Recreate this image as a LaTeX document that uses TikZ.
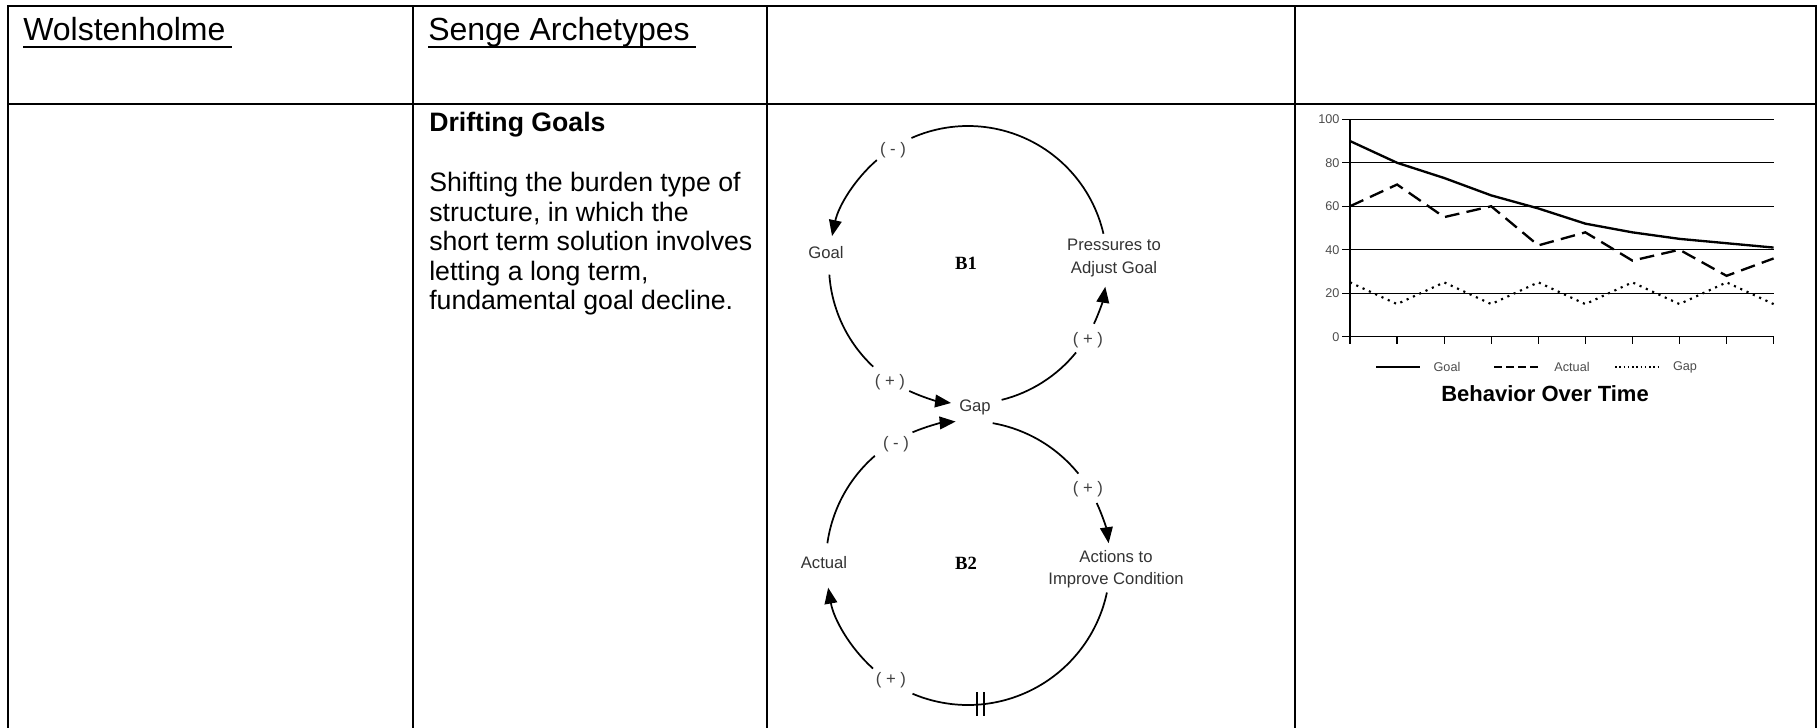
\documentclass[tikz,border=0pt]{standalone}
\usepackage{fontspec}
\setmainfont{Liberation Sans}
\newfontfamily\loopfont{Liberation Serif}
\usetikzlibrary{arrows.meta,calc}
\begin{document}
\begin{tikzpicture}[x=0.75pt,y=-0.75pt,
  tablerule/.style={line width=1.6pt,line cap=rect},
  headtext/.style={anchor=base west,inner sep=0,font=\fontsize{24}{28}\selectfont},
  bodytext/.style={anchor=base west,inner sep=0,font=\fontsize{20}{22}\selectfont},
  cldline/.style={line width=1.3pt},
  cldarrow/.style={cldline,-{Triangle[length=12pt,width=9.5pt]}},
  varlabel/.style={inner sep=0,align=center,text=black!80,font=\fontsize{12.5}{17.5}\selectfont},
  polarity/.style={inner sep=0,text=black!75,font=\fontsize{12.5}{14}\selectfont},
  loopname/.style={inner sep=0,font=\loopfont\bfseries\fontsize{14}{16}\selectfont},
  gridline/.style={line width=0.9pt},
  axlabel/.style={inner sep=0,text=black!70,font=\fontsize{9.5}{11}\selectfont},
  goalcurve/.style={line width=1.75pt},
  actualcurve/.style={line width=1.75pt,dash pattern=on 11pt off 5.5pt},
  gapcurve/.style={line width=1.6pt,dash pattern=on 1.6pt off 3.6pt},
]
\useasboundingbox (0,0) rectangle (1817,728);

% ---------- table frame ----------
\draw[tablerule] (8,6) -- (1816,6);
\draw[tablerule] (8,104) -- (1816,104);
\foreach \x in {8,413,767,1295,1816}
  \draw[tablerule] (\x,6) -- (\x,728);

% ---------- header row ----------
\node[headtext] (wolst) at (23,40) {Wolstenholme};
\draw[line width=1.6pt] ($(wolst.base west)+(0,7)$) -- ($(wolst.base east)+(6,7)$);
\node[headtext] (senge) at (428,40) {Senge Archetypes};
\draw[line width=1.6pt] ($(senge.base west)+(0,7)$) -- ($(senge.base east)+(6,7)$);

% ---------- archetype description ----------
\node[bodytext,font=\bfseries\fontsize{20}{22}\selectfont] (title) at (429,131) {Drifting Goals};
\node[bodytext] (d1) at (429,191.7) {Shifting the burden type of};
\node[bodytext] (d2) at (429,221.2) {structure, in which the};
\node[bodytext] (d3) at (429,250.7) {short term solution involves};
\node[bodytext] (d4) at (429,280.2) {letting a long term,};
\node[bodytext] (d5) at (429,309.7) {fundamental goal decline.};

% ---------- causal loop diagram ----------
\def\ra{139}
\def\rb{142}
\coordinate (c1) at (968,265);
\coordinate (c2) at (968,563);

\node[varlabel] (goal) at (826,253) {Goal};
\node[varlabel] (press) at (1114,258) {Pressures to\\Adjust Goal};
\node[varlabel] (gap) at (975,407) {Gap};
\node[varlabel] (actual) at (824,563) {Actual};
\node[varlabel,font=\fontsize{12.5}{16.5}\selectfont] (actions) at (1116,569) {Actions to\\Improve Condition};
\node[loopname] (b1) at (966,263) {B1};
\node[loopname] (b2) at (966,563) {B2};

\node[polarity] (p1) at (893,150) {( - )};
\node[polarity] (p2) at (890,382) {( + )};
\node[polarity] (p3) at (1088,340) {( + )};
\node[polarity] (p4) at (896,444) {( - )};
\node[polarity] (p5) at (1088,489) {( + )};
\node[polarity] (p6) at (891,680) {( + )};

% loop B1
\draw[cldline]  ($(c1)+(347:\ra)$) arc[start angle=347,end angle=246,radius=\ra];
\draw[cldarrow] ($(c1)+(229:\ra)$) arc[start angle=229,end angle=192,radius=\ra];
\draw[cldline]  ($(c1)+(176:\ra)$) arc[start angle=176,end angle=133,radius=\ra];
\draw[cldarrow] ($(c1)+(115:\ra)$) arc[start angle=115,end angle=97,radius=\ra];
\draw[cldline]  ($(c1)+(76:\ra)$)  arc[start angle=76,end angle=39,radius=\ra];
\draw[cldarrow] ($(c1)+(25:\ra)$)  arc[start angle=25,end angle=9,radius=\ra];

% loop B2
\draw[cldline]  ($(c2)+(280:\rb)$) arc[start angle=280,end angle=321,radius=\rb];
\draw[cldarrow] ($(c2)+(335:\rb)$) arc[start angle=335,end angle=352,radius=\rb];
\draw[cldline]  ($(c2)+(372:\rb)$) arc[start angle=372,end angle=473,radius=\rb];
\draw[cldarrow] ($(c2)+(132:\rb)$) arc[start angle=132,end angle=170,radius=\rb];
\draw[cldline]  ($(c2)+(188:\rb)$) arc[start angle=188,end angle=229,radius=\rb];
\draw[cldarrow] ($(c2)+(247:\rb)$) arc[start angle=247,end angle=265,radius=\rb];

% delay mark
\coordinate (delay) at ($(c2)+(85:\rb)$);
\draw[line width=1.2pt] ($(delay)+(-3.5,-12)$) -- ($(delay)+(-3.5,12)$);
\draw[line width=1.2pt] ($(delay)+(3.5,-12)$) -- ($(delay)+(3.5,12)$);

% ---------- behaviour over time chart ----------
\begin{scope}[shift={(1350,336.7)},x=35.3pt,y=1.6305pt]
  \foreach \v in {20,40,...,100}
    \draw[gridline] (-0.17,\v) -- (9,\v);
  \draw[gridline] (-0.17,0) -- (9,0);
  \draw[gridline] (0,0) -- (0,100);
  \foreach \i in {0,...,9}
    \draw[gridline] (\i,0) -- (\i,-3.3);
  \foreach \v in {0,20,...,100}
    \node[axlabel,anchor=east] at (-0.22,\v) {\v};
  \draw[goalcurve] (0,90) -- (1,80) -- (2,73) -- (3,65) -- (4,59) -- (5,52)
    -- (6,48) -- (7,45) -- (8,43) -- (9,41);
  \draw[actualcurve] (0,60) -- (1,70) -- (2,55) -- (3,60) -- (4,42) -- (5,48)
    -- (6,35) -- (7,40) -- (8,28) -- (9,36);
  \draw[gapcurve] (0,25) -- (1,15) -- (2,25) -- (3,15) -- (4,25) -- (5,15)
    -- (6,25) -- (7,15) -- (8,25) -- (9,15);
\end{scope}

% legend
\coordinate (lg1a) at (1376,367); \coordinate (lg1b) at (1420,367);
\coordinate (lg2a) at (1494,367); \coordinate (lg2b) at (1540,367);
\coordinate (lg3a) at (1615,367); \coordinate (lg3b) at (1658,367);
\draw[line width=1.1pt] (lg1a) -- (lg1b);
\draw[line width=1.1pt,dash pattern=on 6pt off 3pt] (lg2a) -- (lg2b);
\draw[line width=1.3pt,dash pattern=on 1.2pt off 2pt] (lg3a) -- (lg3b);
\node[axlabel] (lgoal) at (1447,367) {Goal};
\node[axlabel] (lactual) at (1572,367) {Actual};
\node[axlabel] (lgap) at (1685,367) {Gap};
\node[inner sep=0,font=\bfseries\fontsize{16.5}{20}\selectfont] (bot) at (1545,394) {Behavior Over Time};
\end{tikzpicture}
\end{document}
